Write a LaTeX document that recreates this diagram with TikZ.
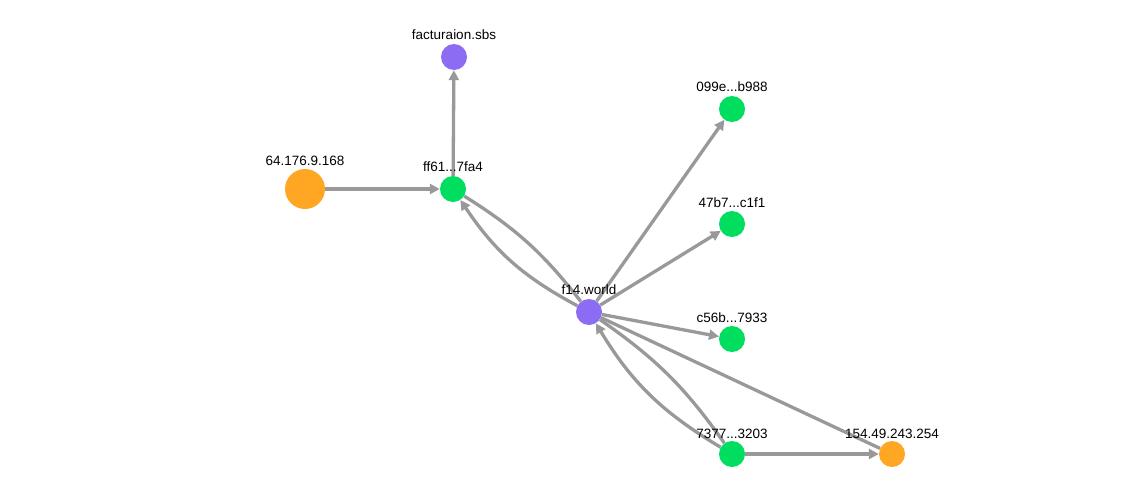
\documentclass[tikz,border=0pt]{standalone}
\usepackage{fontspec}
\setmainfont{Liberation Sans}
\usetikzlibrary{arrows.meta,backgrounds}
\definecolor{eg}{HTML}{999999}
\definecolor{gn}{HTML}{00DD5F}
\definecolor{pu}{HTML}{8B6CF2}
\definecolor{or}{HTML}{FFA623}
\begin{document}
\begin{tikzpicture}[x=1pt,y=-1pt,
  n/.style={circle,inner sep=0pt,minimum size=26pt},
  g/.style={n,fill=gn}, p/.style={n,fill=pu}, o/.style={n,fill=or},
  lb/.style={font=\fontsize{13.5}{13.5}\selectfont,inner sep=0pt},
  e/.style={draw=eg,line width=3.3pt},
  a/.style={e,-{Triangle[length=10pt,width=10pt]}}]
\useasboundingbox (0,0) rectangle (1138,498);
\node[p] (fac) at (454,57) {};
\node[o,minimum size=40pt] (ip1) at (305,189) {};
\node[g] (ff) at (453,189) {};
\node[g] (a099) at (732,109) {};
\node[g] (a47) at (732,224) {};
\node[p] (f14) at (589,312) {};
\node[g] (c56) at (732,339) {};
\node[g] (a73) at (732,454) {};
\node[o] (ip2) at (892,454) {};
\begin{scope}[on background layer]
\draw[a] (ip1) -- (ff);
\draw[a] (ff) -- (fac);
\draw[a] (f14) to[bend left=14] (ff);
\draw[e] (ff) to[bend left=10] (f14);
\draw[a] (f14) -- (a099);
\draw[a] (f14) -- (a47);
\draw[a] (f14) -- (c56);
\draw[e] (f14) -- (ip2);
\draw[a] (a73) to[bend left=14] (f14);
\draw[e] (f14) to[bend left=10] (a73);
\draw[a] (a73) -- (ip2);
\end{scope}
\node[lb] (l1) at (454,35) {facturaion.sbs};
\node[lb] (l2) at (305,161) {64.176.9.168};
\node[lb] (l3) at (453,167) {ff61...7fa4};
\node[lb] (l4) at (732,87) {099e...b988};
\node[lb] (l5) at (732,203) {47b7...c1f1};
\node[lb] (l6) at (589,290) {f14.world};
\node[lb] (l7) at (732,318) {c56b...7933};
\node[lb] (l8) at (732,434) {7377...3203};
\node[lb] (l9) at (892,434) {154.49.243.254};
\end{tikzpicture}
\end{document}
